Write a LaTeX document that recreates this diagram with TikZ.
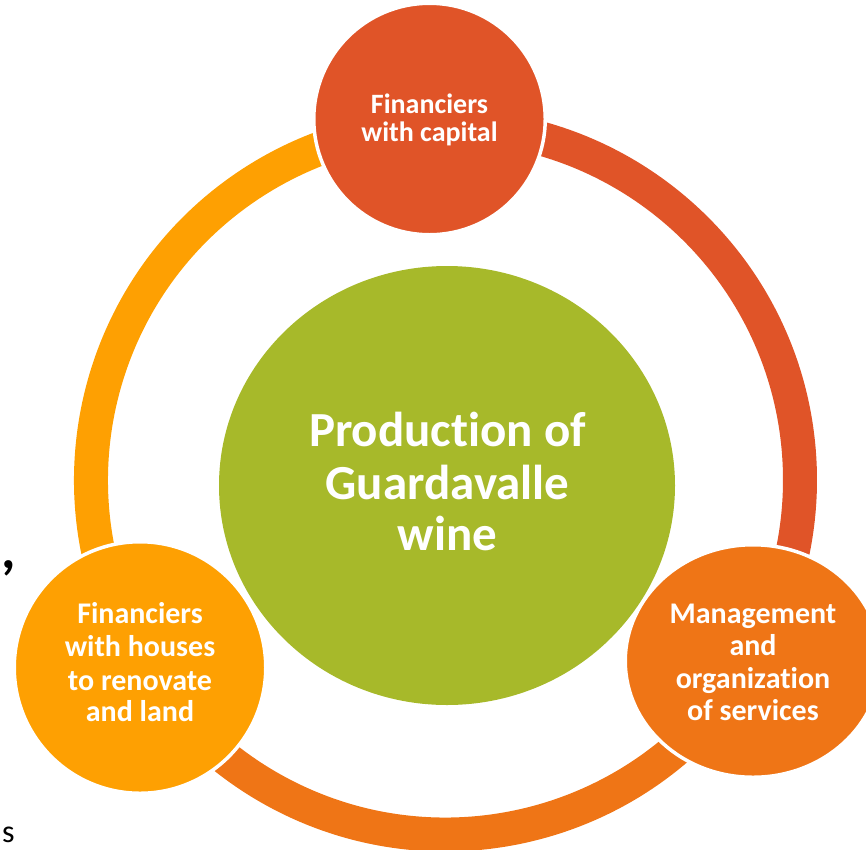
\documentclass[tikz,border=0pt]{standalone}
\usepackage{fontspec}
\setmainfont{Carlito}[Ligatures=NoCommon]
\usetikzlibrary{shapes.geometric}
\definecolor{redc}{RGB}{224,84,40}
\definecolor{orangec}{RGB}{239,117,22}
\definecolor{yellowc}{RGB}{254,160,2}
\definecolor{greenc}{RGB}{167,185,42}
\begin{document}
\begin{tikzpicture}[x=1pt,y=-1pt,
  seg/.style={line width=34pt},
  bubble/.style={circle,draw=white,line width=3.5pt,inner sep=0pt},
  lblsmall/.style={text=white,inner sep=0pt,anchor=base,font=\fontsize{28}{28}\selectfont\bfseries},
  lblmid/.style={text=white,inner sep=0pt,anchor=base,font=\fontsize{30}{30}\selectfont\bfseries},
  lblbig/.style={text=white,inner sep=0pt,anchor=base,font=\fontsize{49}{49}\selectfont\bfseries}]
\useasboundingbox (0,0) rectangle (866,849);
\coordinate (rc) at (445.5,480);
% ring segments
\draw[seg,draw=redc] ([shift={(-92.5:354.5)}]rc) arc[start angle=-92.5,end angle=30.5,radius=354.5];
\draw[seg,draw=orangec] ([shift={(30.5:354.5)}]rc) arc[start angle=30.5,end angle=148.5,radius=354.5];
\draw[seg,draw=yellowc] ([shift={(148.5:354.5)}]rc) arc[start angle=148.5,end angle=267.5,radius=354.5];
% circles
\node[bubble,fill=redc,minimum size=231.5pt] (topc) at (429.5,119) {};
\node[bubble,ellipse,fill=orangec,minimum width=255.5pt,minimum height=232.5pt] (rightc) at (753,661) {};
\node[bubble,fill=yellowc,minimum size=251.5pt] (leftc) at (140,667.5) {};
\node[ellipse,fill=greenc,minimum width=456pt,minimum height=439pt,inner sep=0pt] (centerc) at (447,485.5) {};
% texts
\node[lblsmall] (t1) at (429.5,113.3) {Financiers};
\node[lblsmall] (t2) at (429.5,141) {with capital};
\node[lblbig] (c1) at (447.5,446.7) {Production of};
\node[lblbig] (c2) at (447.5,499) {Guardavalle};
\node[lblbig] (c3) at (447.5,550) {wine};
\node[lblmid] (l1) at (140,623.3) {Financiers};
\node[lblmid] (l2) at (140,656.7) {with houses};
\node[lblmid] (l3) at (140,690) {to renovate};
\node[lblmid] (l4) at (140,721.7) {and land};
\node[lblmid] (r1) at (753,623.3) {Management};
\node[lblmid] (r2) at (753,655) {and};
\node[lblmid] (r3) at (753,688) {organization};
\node[lblmid] (r4) at (753,720) {of services};
% stray slide marks
\node[inner sep=0pt,anchor=base west,font=\fontsize{56}{56}\selectfont\bfseries] (mark1) at (1,568) {,};
\node[inner sep=0pt,anchor=base west,font=\fontsize{32}{32}\selectfont] (mark2) at (2,842) {s};
\end{tikzpicture}
\end{document}
